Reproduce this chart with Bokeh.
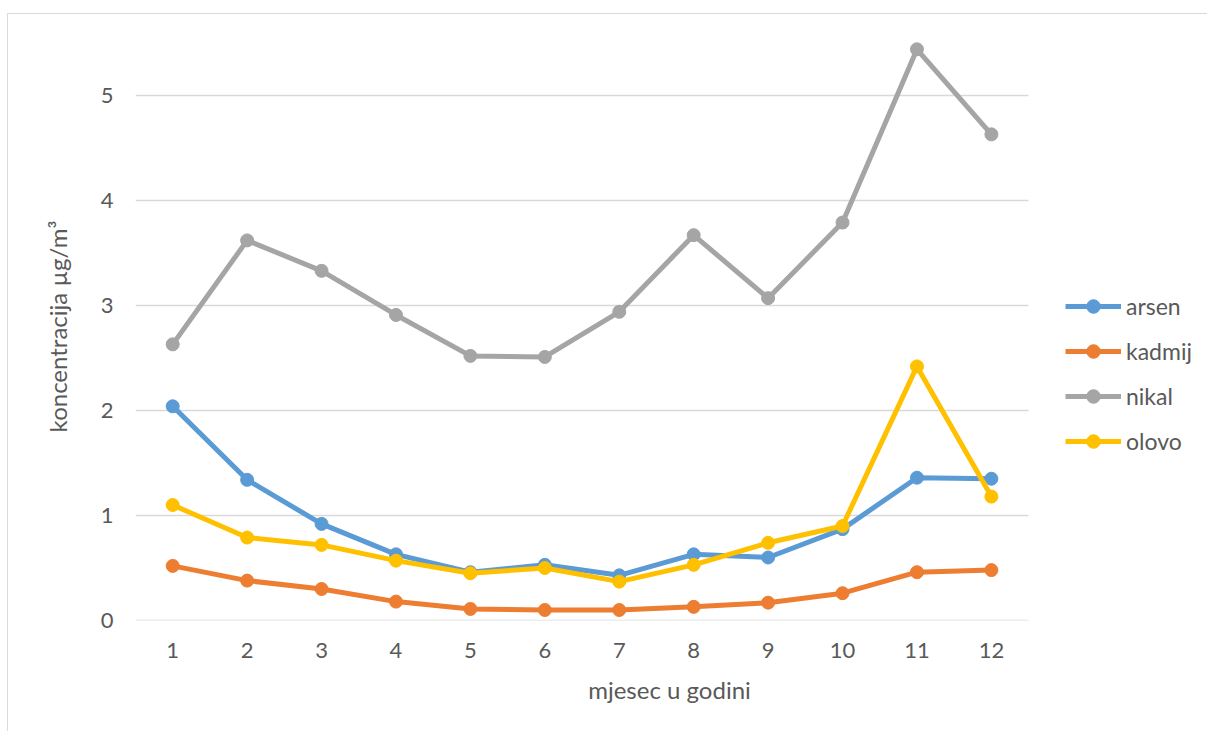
from bokeh.plotting import figure
from bokeh.models import Range1d, FixedTicker, Legend, LegendItem
from bokeh.embed import file_html
from bokeh.resources import INLINE

months = [1, 2, 3, 4, 5, 6, 7, 8, 9, 10, 11, 12]
arsen = [2.04, 1.34, 0.92, 0.63, 0.46, 0.53, 0.43, 0.63, 0.60, 0.87, 1.36, 1.35]
kadmij = [0.52, 0.38, 0.30, 0.18, 0.11, 0.10, 0.10, 0.13, 0.17, 0.26, 0.46, 0.48]
nikal = [2.63, 3.62, 3.33, 2.91, 2.52, 2.51, 2.94, 3.67, 3.07, 3.79, 5.44, 4.63]
olovo = [1.10, 0.79, 0.72, 0.57, 0.45, 0.50, 0.37, 0.53, 0.74, 0.90, 2.42, 1.18]
names = ["arsen", "kadmij", "nikal", "olovo"]
colors = ["#5B9BD5", "#ED7D31", "#A5A5A5", "#FFC000"]
y_ticks = [0, 1, 2, 3, 4, 5]

FONT = "Lato"
TXT = "#595959"
X_LO, X_HI = 0.5, 12.5  # category slots span of the plotting area

# extra room on the right of the x range holds the legend
p = figure(width=1200, height=718, output_backend="svg", toolbar_location=None,
           x_range=Range1d(X_LO, 14.85), y_range=Range1d(0, 5.6),
           min_border_left=127, min_border_right=5, min_border_top=18, min_border_bottom=112)
p.margin = (13, 0, 0, 7)
p.styles = {"border-top": "1px solid #d9d9d9", "border-left": "1px solid #d9d9d9"}
p.outline_line_color = None
p.background_fill_color = "white"
p.border_fill_color = "white"

p.xgrid.grid_line_color = None
p.ygrid.grid_line_color = None
# horizontal gridlines limited to the category area
p.segment(x0=[X_LO] * len(y_ticks), x1=[X_HI] * len(y_ticks), y0=y_ticks, y1=y_ticks,
          line_color="#d9d9d9", line_width=1.5)

p.yaxis.ticker = FixedTicker(ticks=y_ticks)
p.xaxis.ticker = FixedTicker(ticks=months)
p.xaxis.bounds = (X_LO, X_HI)

for ax in (p.xaxis[0], p.yaxis[0]):
    ax.axis_line_color = None
    ax.major_tick_line_color = None
    ax.minor_tick_line_color = None
    ax.major_label_text_font = FONT
    ax.major_label_text_font_size = "22px"
    ax.major_label_text_color = TXT
    ax.axis_label_text_font = FONT
    ax.axis_label_text_font_size = "24px"
    ax.axis_label_text_color = TXT
    ax.axis_label_text_font_style = "normal"

p.yaxis.major_label_standoff = 16
p.xaxis.major_label_standoff = 16
p.yaxis.axis_label = "koncentracija µg/m³"
p.yaxis.axis_label_standoff = 26
p.xaxis.axis_label = "mjesec u godini"
p.xaxis.axis_label_standoff = 14

items = []
for name, series, c in zip(names, [arsen, kadmij, nikal, olovo], colors):
    l = p.line(months, series, line_color=c, line_width=5)
    s = p.scatter(months, series, size=13, fill_color=c, line_color=c)
    items.append(LegendItem(label=name, renderers=[l, s]))

legend = Legend(items=items, location=(930, 162), orientation="vertical",
                glyph_width=56, glyph_height=34, label_height=20, spacing=11,
                label_standoff=5, padding=0, margin=0,
                label_text_font=FONT, label_text_font_size="23px", label_text_color=TXT,
                border_line_color=None, background_fill_alpha=0)
p.add_layout(legend, "center")

open("out.html", "w").write(file_html(p, INLINE))
